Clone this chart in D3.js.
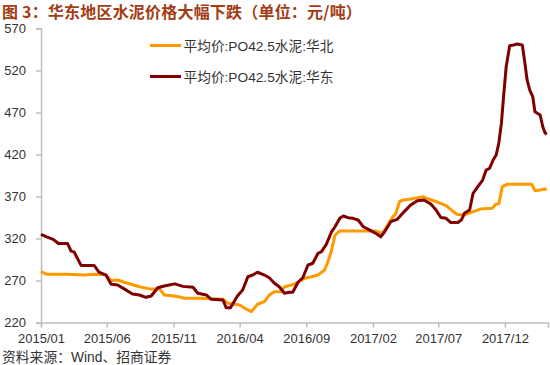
<!DOCTYPE html>
<html><head><meta charset="utf-8">
<script src="https://cdn.jsdelivr.net/npm/d3@7"></script>
<style>
body{margin:0;background:#fff;}
svg{display:block;}
text{font-family:"Liberation Sans",Arial,"Noto Sans CJK SC",sans-serif;}
</style></head>
<body>
<svg id="chart" width="550" height="365"></svg>
<script>
const titleText = "图 3：华东地区水泥价格大幅下跌（单位：元/吨）";
const sourceText = "资料来源：Wind、招商证券";
const seriesNames = ["平均价:PO42.5水泥:华北", "平均价:PO42.5水泥:华东"];
const yTicks = [220, 270, 320, 370, 420, 470, 520, 570];
const xTickDates = ["2015-01-01","2015-06-01","2015-11-01","2016-04-01","2016-09-01","2017-02-01","2017-07-01","2017-12-01"];

const northDates = ["2015-01-01","2015-01-14","2015-03-01","2015-04-10","2015-05-03","2015-05-30","2015-06-11","2015-06-26","2015-07-11","2015-08-15","2015-09-07","2015-09-30","2015-10-11","2015-11-04","2015-11-15","2015-11-26","2015-12-31","2016-02-23","2016-03-06","2016-04-01","2016-04-13","2016-04-28","2016-05-12","2016-05-28","2016-06-08","2016-06-20","2016-07-05","2016-07-13","2016-07-29","2016-08-13","2016-08-29","2016-09-13","2016-09-28","2016-10-13","2016-10-21","2016-10-29","2016-11-06","2016-11-17","2017-02-05","2017-02-13","2017-02-21","2017-02-28","2017-03-07","2017-03-19","2017-03-26","2017-04-03","2017-04-11","2017-04-26","2017-05-27","2017-06-04","2017-06-27","2017-07-20","2017-08-05","2017-08-13","2017-08-28","2017-09-13","2017-10-06","2017-11-02","2017-11-10","2017-11-17","2017-11-25","2017-12-06","2018-02-01","2018-02-08","2018-03-03","2018-03-07"];
const northValues = [280.5,277.4,277.4,276.5,277.4,277,269.8,270.6,267.9,262.6,260,260,252.7,251.5,250.4,248.8,248.8,247.6,242.8,240.8,236.9,232.9,241.7,244.8,252.7,256.7,256.7,262.6,264.6,267.9,272.6,274.5,276.5,282.5,292.4,306,324,329,329,328,326,330,336,346,350,363.8,365.8,366.7,369.8,367.9,363.8,358.7,352,348.8,348,350.7,355,356,360.7,361,381.7,384.5,384.5,376.9,378.6,379.5];

const eastDates = ["2015-01-01","2015-01-14","2015-01-29","2015-02-10","2015-03-03","2015-03-11","2015-03-18","2015-04-03","2015-05-03","2015-05-14","2015-05-30","2015-06-11","2015-06-26","2015-07-11","2015-07-30","2015-08-15","2015-08-30","2015-09-11","2015-09-26","2015-10-11","2015-11-04","2015-11-23","2015-12-16","2015-12-27","2016-01-16","2016-01-27","2016-02-23","2016-03-01","2016-03-11","2016-03-27","2016-04-08","2016-04-20","2016-05-01","2016-05-12","2016-05-28","2016-06-08","2016-06-20","2016-07-01","2016-07-13","2016-07-24","2016-08-01","2016-08-13","2016-08-24","2016-09-05","2016-09-16","2016-09-28","2016-10-06","2016-10-17","2016-10-29","2016-11-06","2016-11-17","2016-11-25","2016-12-06","2016-12-17","2016-12-29","2017-01-10","2017-01-25","2017-02-10","2017-02-19","2017-02-28","2017-03-14","2017-03-29","2017-04-14","2017-04-29","2017-05-14","2017-05-29","2017-06-14","2017-06-26","2017-07-07","2017-07-19","2017-07-30","2017-08-15","2017-08-23","2017-08-30","2017-09-11","2017-09-19","2017-09-30","2017-10-11","2017-10-19","2017-10-27","2017-11-04","2017-11-11","2017-11-17","2017-11-23","2017-11-28","2017-12-04","2017-12-12","2017-12-21","2017-12-29","2018-01-10","2018-01-16","2018-01-21","2018-01-27","2018-02-03","2018-02-08","2018-02-20","2018-02-26","2018-03-03","2018-03-07"];
const eastValues = [325,322,319,314,314,305,304,288,288,280,276.5,265.5,264.6,260,254,252.7,250,251.5,261.4,263.5,266,263,262,254.8,252.7,247.6,246.8,237.6,237.6,251.5,258.7,274.5,276.5,279.8,276.5,273.3,266.7,262.6,254.8,256,256,267.9,273.3,288.5,290.5,302.4,304.3,313,328,334,344,346.8,344.8,344,342,334,330,325.4,322,328,340,342.8,352,360,365,365.8,361,354,345,344,339,339,342,350,354,373.8,381.7,389.6,401.5,403.6,413.5,419.4,433.3,457,488.8,524.5,549.5,550.4,551.5,550.4,528.6,508.7,496.8,488.8,471,467,453,446,444];

const colors = ["#FF9900", "#800000"];
const parse = d3.timeParse("%Y-%m-%d");
const svg = d3.select("#chart");

const x = d3.scaleTime().domain([parse("2015-01-01"), parse("2018-03-10")]).range([41, 548]);
const y = d3.scaleLinear().domain([220, 570]).range([322.5, 28.5]);

// title
svg.append("text").attr("x", 2).attr("y", 17.5).attr("fill", "#A33B14")
  .attr("font-size", 16).attr("font-weight", "bold").attr("letter-spacing", 0.2)
  .style("font-family", '"Noto Sans CJK SC",sans-serif').text(titleText);

// y axis
const yAxis = svg.append("g").attr("transform", "translate(41,0)")
  .call(d3.axisLeft(y).tickValues(yTicks).tickSize(5).tickPadding(10).tickFormat(d3.format("d")));
yAxis.select(".domain").attr("stroke", "#BFBFBF").attr("stroke-width", 1.5);
yAxis.selectAll(".tick line").attr("stroke", "#BFBFBF").attr("stroke-width", 1.5);
yAxis.selectAll(".tick text").attr("fill", "#333").attr("font-size", 13)
  .style("font-family", '"Liberation Sans",Arial,sans-serif');

// x axis
const xAxis = svg.append("g").attr("transform", "translate(0,322.5)")
  .call(d3.axisBottom(x).tickValues(xTickDates.map(parse)).tickSize(5).tickPadding(6).tickFormat(d3.timeFormat("%Y/%m")));
xAxis.select(".domain").attr("stroke", "#BFBFBF").attr("stroke-width", 1.5);
xAxis.selectAll(".tick line").attr("stroke", "#BFBFBF").attr("stroke-width", 1.5);
xAxis.selectAll(".tick text").attr("fill", "#333").attr("font-size", 13)
  .style("font-family", '"Liberation Sans",Arial,sans-serif');

// lines
const line = d3.line().x(d => x(d.date)).y(d => y(d.value));
const series = [
  northDates.map((d, i) => ({date: parse(d), value: northValues[i]})),
  eastDates.map((d, i) => ({date: parse(d), value: eastValues[i]}))
];
series.forEach((s, i) => {
  svg.append("path").datum(s).attr("d", line).attr("fill", "none")
    .attr("stroke", colors[i]).attr("stroke-width", 3).attr("stroke-linejoin", "round");
});

// legend
const legendY = [45.5, 76.5];
seriesNames.forEach((name, i) => {
  svg.append("line").attr("x1", 150).attr("x2", 181).attr("y1", legendY[i]).attr("y2", legendY[i])
    .attr("stroke", colors[i]).attr("stroke-width", 3);
  svg.append("text").attr("x", 183.5).attr("y", legendY[i] + 5).attr("font-size", 13.7)
    .attr("fill", "#333").text(name);
});

// source
svg.append("text").attr("x", 2).attr("y", 362).attr("font-size", 13.8).attr("fill", "#333")
  .text(sourceText);
</script>
</body></html>
